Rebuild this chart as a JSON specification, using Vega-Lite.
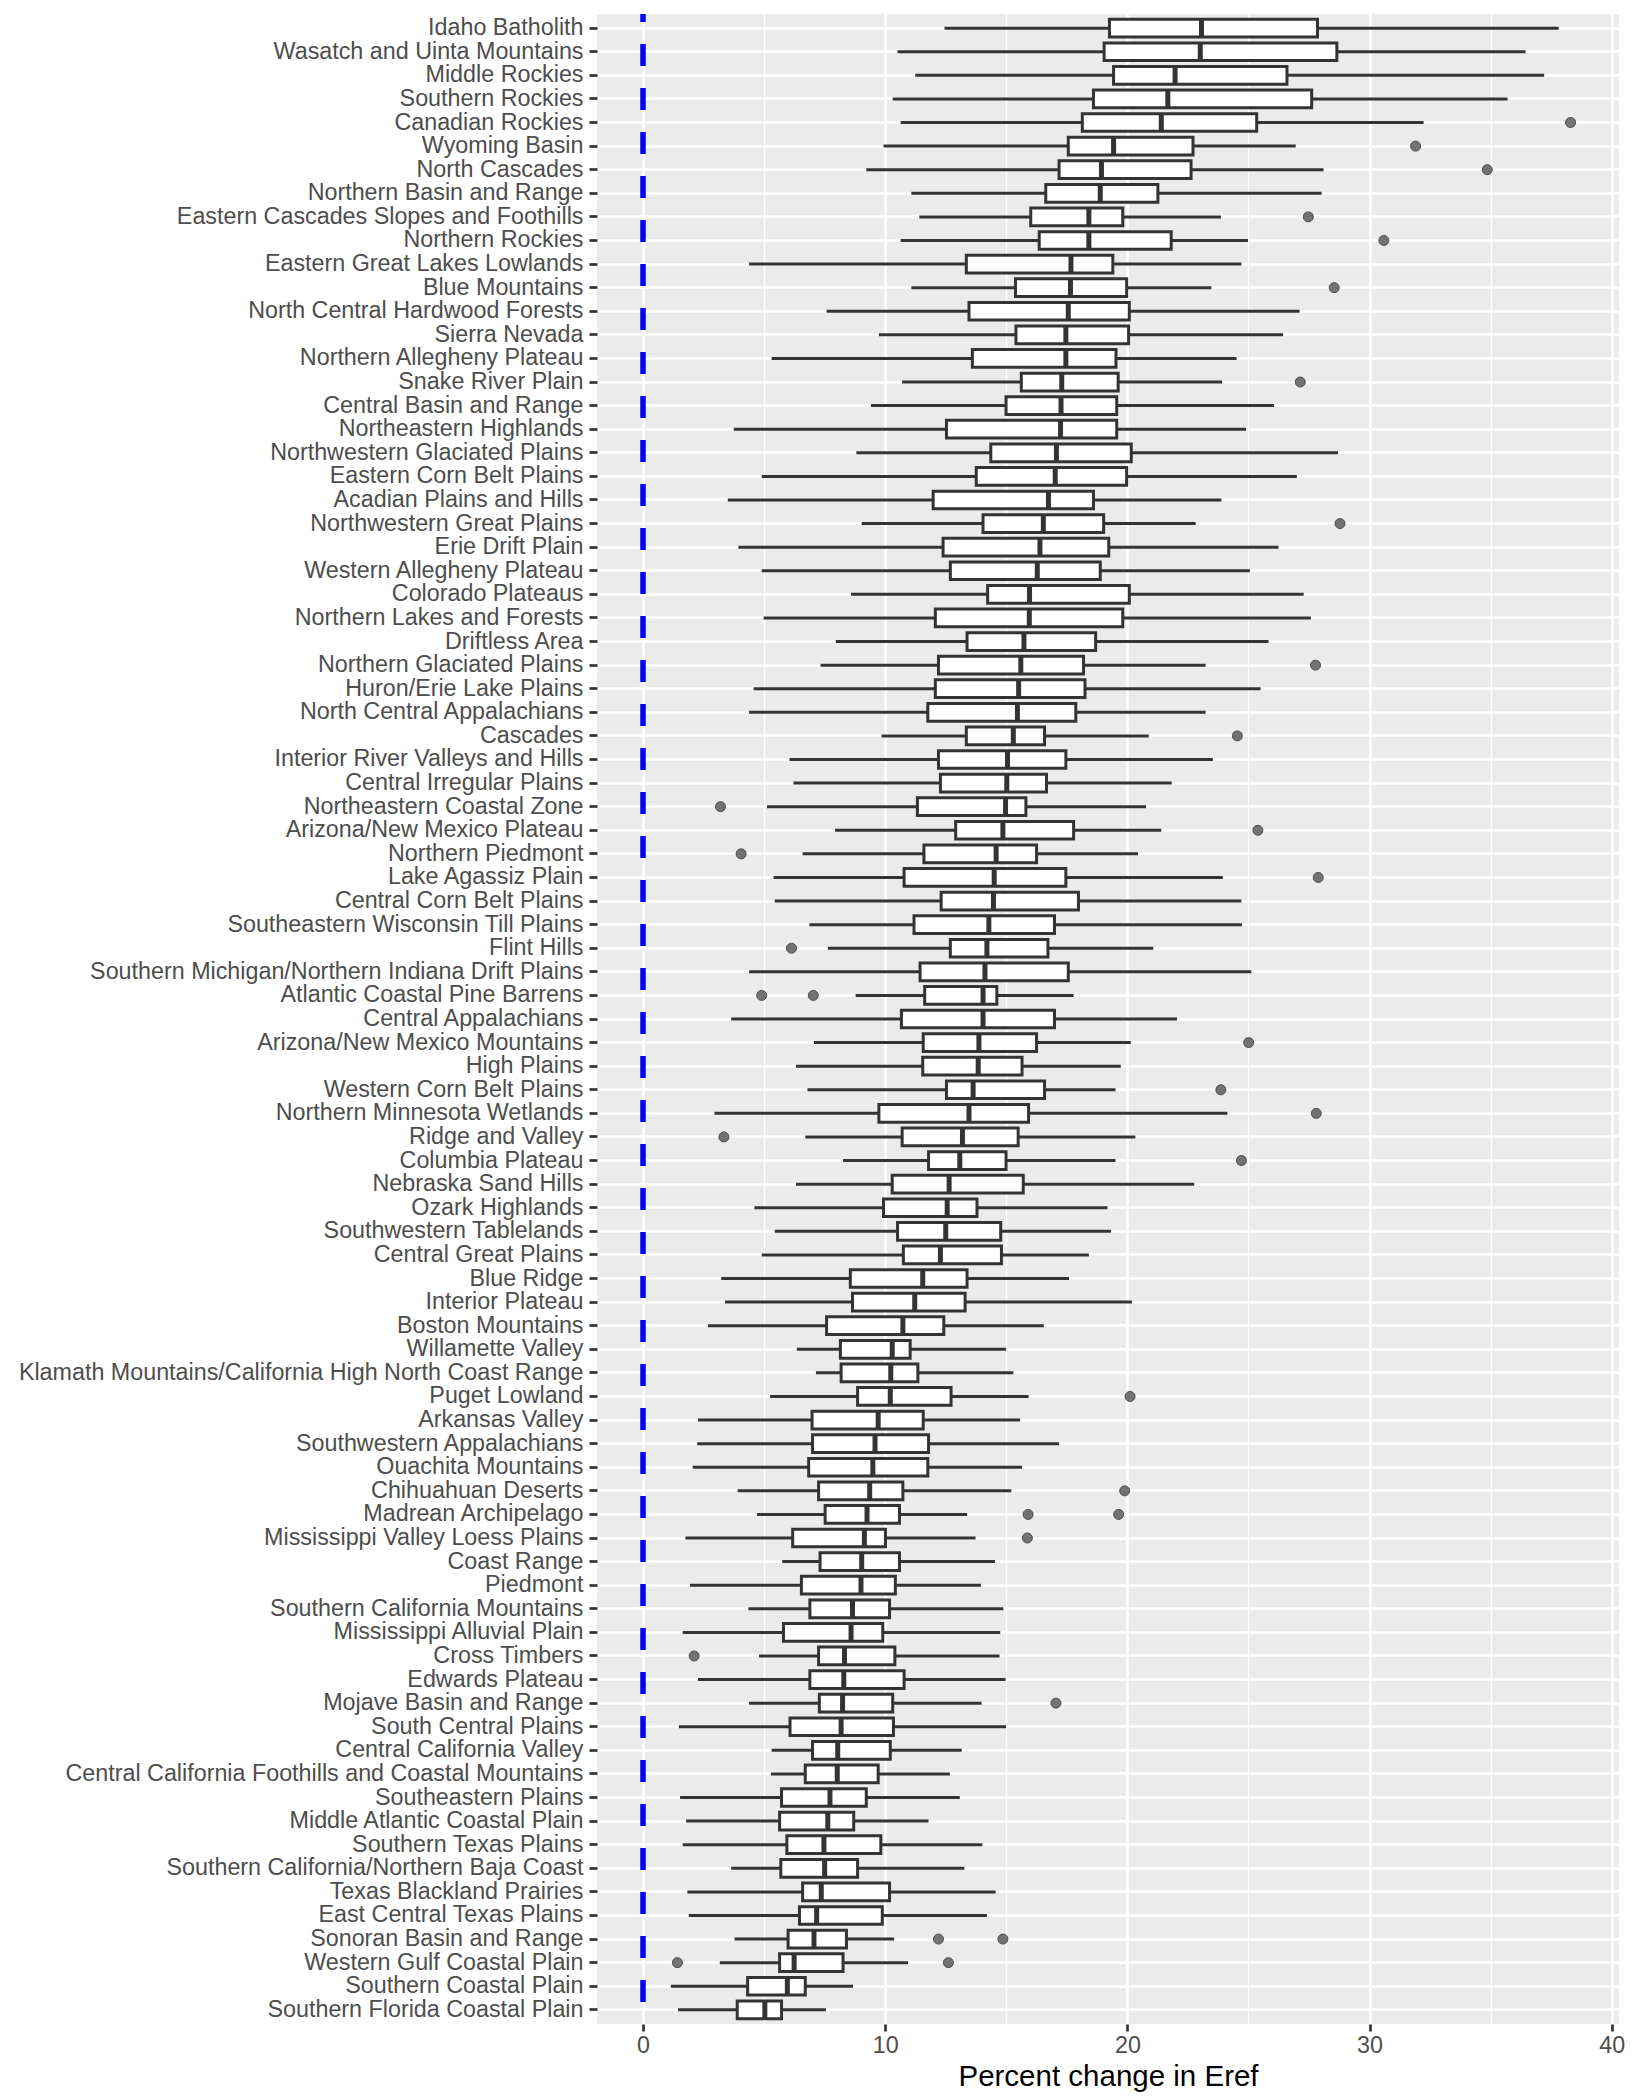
{
  "$schema": "https://vega.github.io/schema/vega-lite/v6.json",
  "autosize": {"type": "none"},
  "padding": {"left": 597, "top": 14, "right": 13, "bottom": 73},
  "width": 1022,
  "height": 2010,
  "data": {
    "values": [
      {"r": "Idaho Batholith", "lo": 12.45, "q1": 19.26, "md": 23.06, "q3": 27.85, "hi": 37.81, "out": []},
      {"r": "Wasatch and Uinta Mountains", "lo": 10.51, "q1": 19.04, "md": 23.01, "q3": 28.65, "hi": 36.44, "out": []},
      {"r": "Middle Rockies", "lo": 11.24, "q1": 19.43, "md": 21.97, "q3": 26.59, "hi": 37.21, "out": []},
      {"r": "Southern Rockies", "lo": 10.31, "q1": 18.6, "md": 21.67, "q3": 27.61, "hi": 35.7, "out": []},
      {"r": "Canadian Rockies", "lo": 10.64, "q1": 18.14, "md": 21.4, "q3": 25.34, "hi": 32.23, "out": [38.3]},
      {"r": "Wyoming Basin", "lo": 9.93, "q1": 17.56, "md": 19.43, "q3": 22.71, "hi": 26.95, "out": [31.9]},
      {"r": "North Cascades", "lo": 9.22, "q1": 17.18, "md": 18.93, "q3": 22.63, "hi": 28.1, "out": [34.86]},
      {"r": "Northern Basin and Range", "lo": 11.08, "q1": 16.63, "md": 18.88, "q3": 21.26, "hi": 28.02, "out": []},
      {"r": "Eastern Cascades Slopes and Foothills", "lo": 11.41, "q1": 16.01, "md": 18.41, "q3": 19.81, "hi": 23.86, "out": [27.47]},
      {"r": "Northern Rockies", "lo": 10.64, "q1": 16.36, "md": 18.41, "q3": 21.81, "hi": 24.98, "out": [30.59]},
      {"r": "Eastern Great Lakes Lowlands", "lo": 4.38, "q1": 13.35, "md": 17.67, "q3": 19.4, "hi": 24.71, "out": []},
      {"r": "Blue Mountains", "lo": 11.08, "q1": 15.38, "md": 17.65, "q3": 19.97, "hi": 23.47, "out": [28.54]},
      {"r": "North Central Hardwood Forests", "lo": 7.58, "q1": 13.46, "md": 17.56, "q3": 20.08, "hi": 27.11, "out": []},
      {"r": "Sierra Nevada", "lo": 9.74, "q1": 15.4, "md": 17.46, "q3": 20.05, "hi": 26.43, "out": []},
      {"r": "Northern Allegheny Plateau", "lo": 5.31, "q1": 13.6, "md": 17.46, "q3": 19.53, "hi": 24.51, "out": []},
      {"r": "Snake River Plain", "lo": 10.7, "q1": 15.62, "md": 17.29, "q3": 19.62, "hi": 23.91, "out": [27.14]},
      {"r": "Central Basin and Range", "lo": 9.41, "q1": 14.99, "md": 17.26, "q3": 19.56, "hi": 26.05, "out": []},
      {"r": "Northeastern Highlands", "lo": 3.75, "q1": 12.53, "md": 17.24, "q3": 19.56, "hi": 24.9, "out": []},
      {"r": "Northwestern Glaciated Plains", "lo": 8.81, "q1": 14.36, "md": 17.07, "q3": 20.16, "hi": 28.7, "out": []},
      {"r": "Eastern Corn Belt Plains", "lo": 4.9, "q1": 13.76, "md": 17.02, "q3": 19.97, "hi": 27.0, "out": []},
      {"r": "Acadian Plains and Hills", "lo": 3.5, "q1": 11.98, "md": 16.74, "q3": 18.6, "hi": 23.88, "out": []},
      {"r": "Northwestern Great Plains", "lo": 9.03, "q1": 14.04, "md": 16.53, "q3": 19.02, "hi": 22.82, "out": [28.78]},
      {"r": "Erie Drift Plain", "lo": 3.94, "q1": 12.39, "md": 16.39, "q3": 19.23, "hi": 26.24, "out": []},
      {"r": "Western Allegheny Plateau", "lo": 4.9, "q1": 12.69, "md": 16.28, "q3": 18.88, "hi": 25.06, "out": []},
      {"r": "Colorado Plateaus", "lo": 8.59, "q1": 14.23, "md": 15.96, "q3": 20.08, "hi": 27.28, "out": []},
      {"r": "Northern Lakes and Forests", "lo": 4.98, "q1": 12.07, "md": 15.95, "q3": 19.81, "hi": 27.58, "out": []},
      {"r": "Driftless Area", "lo": 7.96, "q1": 13.38, "md": 15.73, "q3": 18.69, "hi": 25.83, "out": []},
      {"r": "Northern Glaciated Plains", "lo": 7.33, "q1": 12.2, "md": 15.6, "q3": 18.19, "hi": 23.23, "out": [27.77]},
      {"r": "Huron/Erie Lake Plains", "lo": 4.57, "q1": 12.07, "md": 15.51, "q3": 18.25, "hi": 25.5, "out": []},
      {"r": "North Central Appalachians", "lo": 4.38, "q1": 11.76, "md": 15.46, "q3": 17.87, "hi": 23.23, "out": []},
      {"r": "Cascades", "lo": 9.85, "q1": 13.35, "md": 15.29, "q3": 16.58, "hi": 20.88, "out": [24.54]},
      {"r": "Interior River Valleys and Hills", "lo": 6.05, "q1": 12.2, "md": 15.05, "q3": 17.46, "hi": 23.53, "out": []},
      {"r": "Central Irregular Plains", "lo": 6.21, "q1": 12.28, "md": 15.02, "q3": 16.66, "hi": 21.83, "out": []},
      {"r": "Northeastern Coastal Zone", "lo": 5.12, "q1": 11.33, "md": 14.97, "q3": 15.81, "hi": 20.77, "out": [3.2]},
      {"r": "Arizona/New Mexico Plateau", "lo": 7.93, "q1": 12.91, "md": 14.86, "q3": 17.78, "hi": 21.4, "out": [25.39]},
      {"r": "Northern Piedmont", "lo": 6.59, "q1": 11.6, "md": 14.58, "q3": 16.25, "hi": 20.44, "out": [4.05]},
      {"r": "Lake Agassiz Plain", "lo": 5.39, "q1": 10.78, "md": 14.5, "q3": 17.46, "hi": 23.94, "out": [27.88]},
      {"r": "Central Corn Belt Plains", "lo": 5.44, "q1": 12.31, "md": 14.47, "q3": 17.98, "hi": 24.71, "out": []},
      {"r": "Southeastern Wisconsin Till Plains", "lo": 6.87, "q1": 11.19, "md": 14.28, "q3": 16.99, "hi": 24.73, "out": []},
      {"r": "Flint Hills", "lo": 7.63, "q1": 12.69, "md": 14.2, "q3": 16.72, "hi": 21.07, "out": [6.13]},
      {"r": "Southern Michigan/Northern Indiana Drift Plains", "lo": 4.38, "q1": 11.44, "md": 14.12, "q3": 17.56, "hi": 25.12, "out": []},
      {"r": "Atlantic Coastal Pine Barrens", "lo": 8.78, "q1": 11.63, "md": 14.04, "q3": 14.61, "hi": 17.78, "out": [4.9, 7.03]},
      {"r": "Central Appalachians", "lo": 3.64, "q1": 10.67, "md": 14.04, "q3": 16.99, "hi": 22.05, "out": []},
      {"r": "Arizona/New Mexico Mountains", "lo": 7.06, "q1": 11.57, "md": 13.87, "q3": 16.25, "hi": 20.14, "out": [25.01]},
      {"r": "High Plains", "lo": 6.32, "q1": 11.55, "md": 13.84, "q3": 15.65, "hi": 19.73, "out": []},
      {"r": "Western Corn Belt Plains", "lo": 6.79, "q1": 12.53, "md": 13.63, "q3": 16.58, "hi": 19.51, "out": [23.86]},
      {"r": "Northern Minnesota Wetlands", "lo": 2.95, "q1": 9.74, "md": 13.46, "q3": 15.92, "hi": 24.13, "out": [27.8]},
      {"r": "Ridge and Valley", "lo": 6.7, "q1": 10.7, "md": 13.19, "q3": 15.49, "hi": 20.33, "out": [3.34]},
      {"r": "Columbia Plateau", "lo": 8.26, "q1": 11.79, "md": 13.08, "q3": 14.99, "hi": 19.51, "out": [24.71]},
      {"r": "Nebraska Sand Hills", "lo": 6.32, "q1": 10.29, "md": 12.64, "q3": 15.7, "hi": 22.76, "out": []},
      {"r": "Ozark Highlands", "lo": 4.6, "q1": 9.93, "md": 12.56, "q3": 13.79, "hi": 19.18, "out": []},
      {"r": "Southwestern Tablelands", "lo": 5.44, "q1": 10.51, "md": 12.5, "q3": 14.77, "hi": 19.32, "out": []},
      {"r": "Central Great Plains", "lo": 4.9, "q1": 10.75, "md": 12.28, "q3": 14.8, "hi": 18.41, "out": []},
      {"r": "Blue Ridge", "lo": 3.23, "q1": 8.56, "md": 11.55, "q3": 13.38, "hi": 17.59, "out": []},
      {"r": "Interior Plateau", "lo": 3.39, "q1": 8.65, "md": 11.22, "q3": 13.3, "hi": 20.19, "out": []},
      {"r": "Boston Mountains", "lo": 2.68, "q1": 7.58, "md": 10.73, "q3": 12.42, "hi": 16.55, "out": []},
      {"r": "Willamette Valley", "lo": 6.35, "q1": 8.15, "md": 10.29, "q3": 11.03, "hi": 14.99, "out": []},
      {"r": "Klamath Mountains/California High North Coast Range", "lo": 7.14, "q1": 8.18, "md": 10.23, "q3": 11.35, "hi": 15.29, "out": []},
      {"r": "Puget Lowland", "lo": 5.25, "q1": 8.86, "md": 10.21, "q3": 12.72, "hi": 15.92, "out": [20.11]},
      {"r": "Arkansas Valley", "lo": 2.27, "q1": 6.98, "md": 9.71, "q3": 11.57, "hi": 15.57, "out": []},
      {"r": "Southwestern Appalachians", "lo": 2.24, "q1": 7.0, "md": 9.58, "q3": 11.79, "hi": 17.18, "out": []},
      {"r": "Ouachita Mountains", "lo": 2.05, "q1": 6.84, "md": 9.49, "q3": 11.76, "hi": 15.65, "out": []},
      {"r": "Chihuahuan Deserts", "lo": 3.91, "q1": 7.25, "md": 9.36, "q3": 10.73, "hi": 15.21, "out": [19.89]},
      {"r": "Madrean Archipelago", "lo": 4.71, "q1": 7.52, "md": 9.25, "q3": 10.59, "hi": 13.38, "out": [15.9, 19.64]},
      {"r": "Mississippi Valley Loess Plains", "lo": 1.75, "q1": 6.18, "md": 9.14, "q3": 10.01, "hi": 13.73, "out": [15.87]},
      {"r": "Coast Range", "lo": 5.75, "q1": 7.31, "md": 9.03, "q3": 10.59, "hi": 14.53, "out": []},
      {"r": "Piedmont", "lo": 1.94, "q1": 6.54, "md": 9.0, "q3": 10.42, "hi": 13.95, "out": []},
      {"r": "Southern California Mountains", "lo": 4.35, "q1": 6.89, "md": 8.65, "q3": 10.18, "hi": 14.88, "out": []},
      {"r": "Mississippi Alluvial Plain", "lo": 1.64, "q1": 5.8, "md": 8.59, "q3": 9.9, "hi": 14.75, "out": []},
      {"r": "Cross Timbers", "lo": 4.79, "q1": 7.25, "md": 8.32, "q3": 10.4, "hi": 14.72, "out": [2.11]},
      {"r": "Edwards Plateau", "lo": 2.27, "q1": 6.89, "md": 8.29, "q3": 10.78, "hi": 14.97, "out": []},
      {"r": "Mojave Basin and Range", "lo": 4.38, "q1": 7.28, "md": 8.24, "q3": 10.31, "hi": 13.98, "out": [17.05]},
      {"r": "South Central Plains", "lo": 1.48, "q1": 6.07, "md": 8.18, "q3": 10.34, "hi": 14.99, "out": []},
      {"r": "Central California Valley", "lo": 5.31, "q1": 7.0, "md": 8.04, "q3": 10.21, "hi": 13.16, "out": []},
      {"r": "Central California Foothills and Coastal Mountains", "lo": 5.28, "q1": 6.7, "md": 8.02, "q3": 9.71, "hi": 12.67, "out": []},
      {"r": "Southeastern Plains", "lo": 1.53, "q1": 5.72, "md": 7.72, "q3": 9.22, "hi": 13.08, "out": []},
      {"r": "Middle Atlantic Coastal Plain", "lo": 1.78, "q1": 5.64, "md": 7.63, "q3": 8.7, "hi": 11.79, "out": []},
      {"r": "Southern Texas Plains", "lo": 1.64, "q1": 5.94, "md": 7.47, "q3": 9.82, "hi": 14.01, "out": []},
      {"r": "Southern California/Northern Baja Coast", "lo": 3.64, "q1": 5.69, "md": 7.5, "q3": 8.86, "hi": 13.27, "out": []},
      {"r": "Texas Blackland Prairies", "lo": 1.83, "q1": 6.59, "md": 7.36, "q3": 10.18, "hi": 14.56, "out": []},
      {"r": "East Central Texas Plains", "lo": 1.89, "q1": 6.46, "md": 7.17, "q3": 9.88, "hi": 14.2, "out": []},
      {"r": "Sonoran Basin and Range", "lo": 3.78, "q1": 5.99, "md": 7.06, "q3": 8.4, "hi": 10.37, "out": [12.2, 14.86]},
      {"r": "Western Gulf Coastal Plain", "lo": 3.17, "q1": 5.64, "md": 6.24, "q3": 8.26, "hi": 10.94, "out": [1.42, 12.61]},
      {"r": "Southern Coastal Plain", "lo": 1.15, "q1": 4.32, "md": 5.96, "q3": 6.7, "hi": 8.67, "out": []},
      {"r": "Southern Florida Coastal Plain", "lo": 1.45, "q1": 3.89, "md": 5.03, "q3": 5.72, "hi": 7.55, "out": []}
    ]
  },
  "layer": [
    {
      "mark": {"type": "rule", "color": "#333333", "strokeWidth": 3, "opacity": 1},
      "encoding": {
        "y": {
          "field": "r", "type": "nominal", "sort": null,
          "scale": {"type": "band", "paddingInner": 0, "paddingOuter": 0.1},
          "axis": {
            "title": null, "grid": true, "gridWidth": 2.7, "bandPosition": 0.5,
            "tickSize": 8, "labelPadding": 6, "labelLimit": 800
          }
        },
        "x": {
          "field": "lo", "type": "quantitative",
          "scale": {"domain": [-1.9, 40.3], "nice": false, "zero": false},
          "axis": {
            "title": "Percent change in Eref",
            "values": [0, 5, 10, 15, 20, 25, 30, 35, 40],
            "labelExpr": "datum.value % 10 === 0 ? datum.label : ''",
            "tickOpacity": {"condition": {"test": "datum.value % 10 === 0", "value": 1}, "value": 0},
            "gridWidth": {"condition": {"test": "datum.value % 10 === 0", "value": 2.7}, "value": 1.3},
            "labelFlush": false, "labelOverlap": false,
            "labelPadding": 3, "titlePadding": 6
          }
        },
        "x2": {"field": "hi"}
      }
    },
    {
      "mark": {"type": "bar", "fill": "#FFFFFF", "stroke": "#333333", "strokeWidth": 3, "size": 17.7, "opacity": 1},
      "encoding": {
        "y": {"field": "r", "type": "nominal", "sort": null},
        "x": {"field": "q1", "type": "quantitative"},
        "x2": {"field": "q3"}
      }
    },
    {
      "mark": {"type": "tick", "color": "#333333", "thickness": 5, "size": 17.7, "opacity": 1},
      "encoding": {
        "y": {"field": "r", "type": "nominal", "sort": null},
        "x": {"field": "md", "type": "quantitative"}
      }
    },
    {
      "transform": [{"flatten": ["out"]}],
      "mark": {"type": "point", "shape": "circle", "filled": true, "fill": "#737373", "stroke": "#4d4d4d", "strokeWidth": 1, "size": 100, "opacity": 1},
      "encoding": {
        "y": {"field": "r", "type": "nominal", "sort": null},
        "x": {"field": "out", "type": "quantitative"}
      }
    },
    {
      "data": {"values": [{"ref": 0}]},
      "mark": {"type": "rule", "color": "#0000FF", "strokeWidth": 5.5, "strokeDash": [22, 22], "strokeDashOffset": 14, "opacity": 1},
      "encoding": {
        "x": {"field": "ref", "type": "quantitative"}
      }
    }
  ],
  "config": {
    "view": {"stroke": null, "fill": "#EBEBEB"},
    "font": "Liberation Sans",
    "axis": {
      "domain": false,
      "gridColor": "#FFFFFF",
      "gridOpacity": 1,
      "tickColor": "#333333",
      "tickSize": 7,
      "tickWidth": 2.7,
      "labelColor": "#4D4D4D",
      "labelFont": "Liberation Sans",
      "labelFontSize": 23.3,
      "titleFont": "Liberation Sans",
      "titleFontSize": 29.5,
      "titleFontWeight": "normal",
      "titleColor": "#000000"
    }
  }
}
